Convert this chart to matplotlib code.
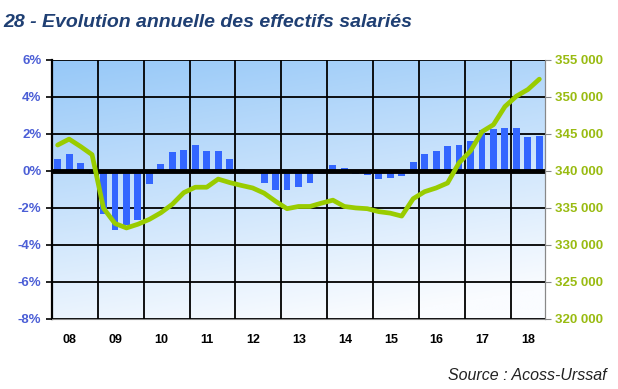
import numpy as np
import matplotlib
matplotlib.use("Agg")
import matplotlib.pyplot as plt
from matplotlib.ticker import FuncFormatter

plt.rcParams['font.family'] = ['Liberation Sans', 'DejaVu Sans']

# yearly labels (one block of 4 quarters per year, 2018 has 3)
years = ["08", "09", "10", "11", "12", "13", "14", "15", "16", "17", "18"]

# annual change of employees, in % (bars, left axis)
growth = [0.67, 0.91, 0.42, -0.15,
          -2.33, -3.18, -2.90, -2.67,
          -0.69, 0.37, 1.00, 1.14,
          1.40, 1.09, 1.09, 0.67,
          0.10, 0.05, -0.64, -1.05,
          -1.05, -0.87, -0.64, -0.15,
          0.33, 0.15, -0.15, -0.22,
          -0.45, -0.36, -0.27, 0.49,
          0.91, 1.07, 1.33, 1.40,
          1.60, 2.22, 2.27, 2.33,
          2.33, 1.83, 1.90]

# number of employees (line, right axis)
effectifs = [343500, 344300, 343300, 342200,
             334960, 332900, 332300, 332800,
             333460, 334350, 335500, 337070,
             337800, 337800, 338900, 338430,
             338050, 337700, 337000, 335900,
             334900, 335200, 335200, 335650,
             336050, 335200, 335000, 334900,
             334500, 334300, 333900, 336250,
             337200, 337700, 338370, 341100,
             342700, 345300, 346250, 348700,
             350100, 351000, 352400]

n = len(growth)
x = np.arange(n)

fig = plt.figure(figsize=(6.18, 3.89), dpi=100)
ax = fig.add_axes([0.084, 0.18, 0.798, 0.666])

# gradient background: blue top-left to white bottom
h, w = 200, 300
yy = np.linspace(1, 0, h)[:, None]
xx = np.linspace(0, 1, w)[None, :]
t = np.clip(yy * 0.85 + (1 - xx) * 0.25 - 0.1, 0, 1)
top = np.array([150, 200, 248]) / 255
bot = np.array([250, 252, 255]) / 255
img = bot + (top - bot) * t[..., None]
ax.imshow(img, extent=[-0.5, n - 0.5, -8, 6], aspect='auto', zorder=0)

ax.bar(x, growth, width=0.6, color='#3366ff', zorder=3)
ax.axhline(0, color='black', lw=3.5, zorder=4)

ax.set_xlim(-0.5, n - 0.5)
ax.set_ylim(-8, 6)
ax.set_yticks(np.arange(-8, 7, 2))
ax.yaxis.set_major_formatter(FuncFormatter(lambda v, p: f"{v:.0f}%"))

bounds = np.arange(3.5, n - 0.5, 4)
ax.set_xticks(bounds)
ax.set_xticklabels([])
ax.set_xticks([4 * i + 1.05 for i in range(len(years))], minor=True)
ax.set_xticklabels(years, minor=True)
ax.tick_params(axis='x', which='both', length=0, pad=11)
ax.tick_params(axis='x', which='minor', labelsize=9)
for lab in ax.get_xticklabels(minor=True):
    lab.set_fontweight('bold')
ax.tick_params(axis='y', length=4, width=1.2, labelsize=9.5, labelcolor='#4b5ed6')
for lab in ax.get_yticklabels():
    lab.set_fontweight('bold')

ax.grid(True, color='black', lw=1.3, zorder=1)
ax.set_axisbelow(False)
for g in ax.get_xgridlines() + ax.get_ygridlines():
    g.set_zorder(2)

ax.spines['left'].set_linewidth(1.6)
ax.spines['top'].set_visible(False)
ax.spines['right'].set_color('#888888')
ax.spines['bottom'].set_color('#888888')

ax2 = ax.twinx()
ax2.plot(x, effectifs, color='#99cc00', lw=3.4, solid_capstyle='round', zorder=5)
ax2.set_ylim(320000, 355000)
ax2.set_yticks(np.arange(320000, 355001, 5000))
ax2.yaxis.set_major_formatter(FuncFormatter(lambda v, p: f"{int(v):,}".replace(",", " ")))
ax2.tick_params(axis='y', length=4, color='#888888', labelsize=9.5, labelcolor='#99bb11')
for lab in ax2.get_yticklabels():
    lab.set_fontweight('bold')
for s in ['top', 'left', 'bottom']:
    ax2.spines[s].set_visible(False)
ax2.spines['right'].set_color('#888888')

fig.text(0.006, 0.93, "28 - Evolution annuelle des effectifs salariés",
         fontsize=14, fontweight='bold', fontstyle='italic', color='#1f3f73')
fig.text(0.982, 0.022, "Source : Acoss-Urssaf", fontsize=11.5, fontstyle='italic',
         ha='right', color='#222222')

fig.savefig("out.png", dpi=100)
